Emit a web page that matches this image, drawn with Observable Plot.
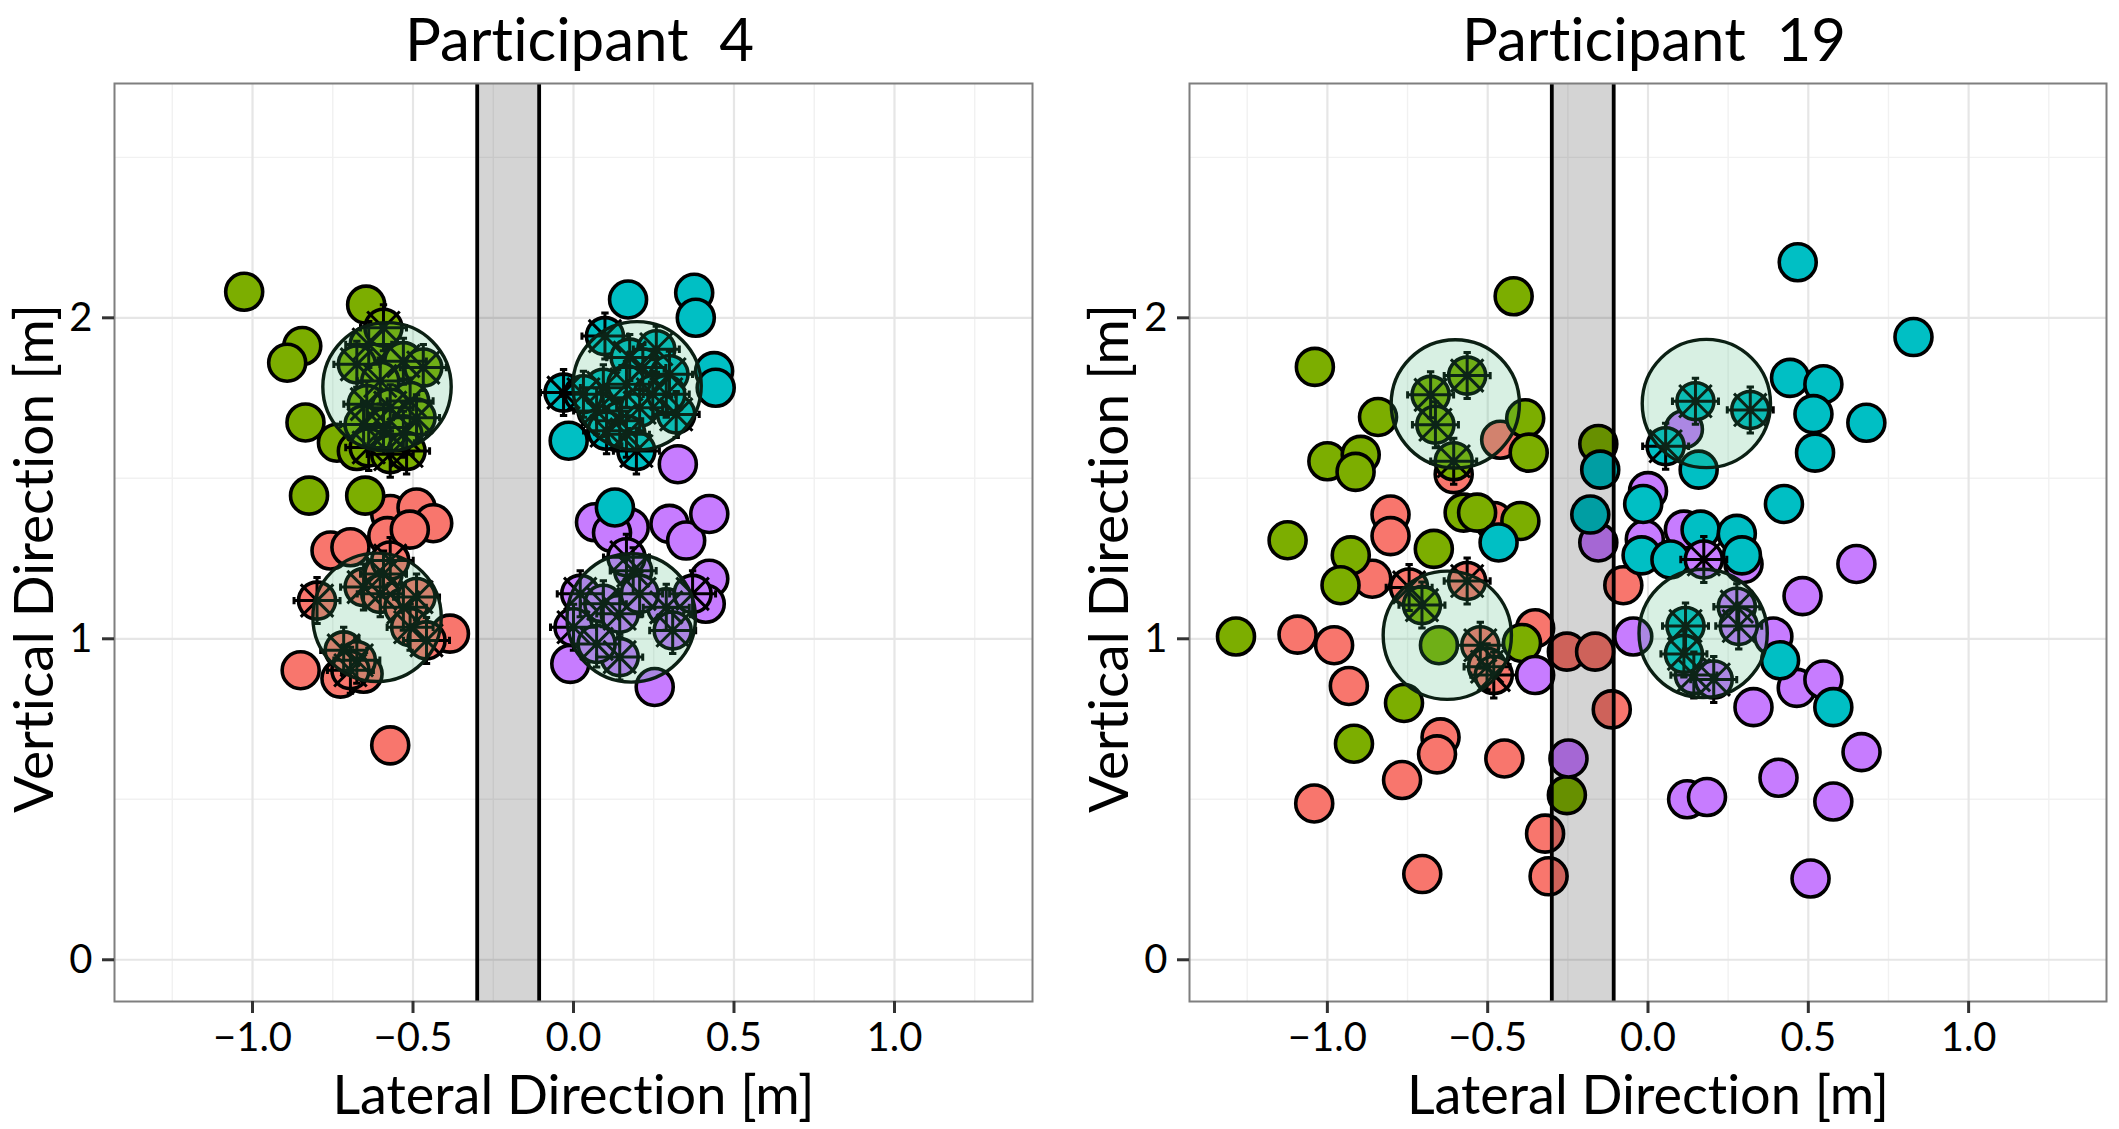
<!DOCTYPE html>
<html>
<head>
<meta charset="utf-8">
<script src="https://cdn.jsdelivr.net/npm/d3@7"></script>
<script src="https://cdn.jsdelivr.net/npm/@observablehq/plot@0.6"></script>
<style>
  html, body { margin: 0; padding: 0; background: #fff; }
  #wrap { display: flex; width: 2119px; height: 1129px; overflow: hidden; }
  #wrap svg { display: block; }
  #wrap svg text { font-variant-ligatures: none; font-feature-settings: "liga" 0; }
</style>
</head>
<body>
<div id="wrap"></div>
<script>
// ---------- axes / reference values ----------
const xDomain = [-1.43, 1.43];
const yDomain = [-0.13, 2.73];
const xMajor = [-1, -0.5, 0, 0.5, 1];
const xMinor = [-1.25, -0.75, -0.25, 0.25, 0.75, 1.25];
const yMajor = [0, 1, 2];
const yMinor = [0.5, 1.5, 2.5];
const band = [-0.3, -0.107];
const circleRadius = 0.2;
const xLabel = "Lateral Direction [m]";
const yLabel = "Vertical Direction [m]";

const colorRed = "#F8766D", colorGreen = "#7CAE00", colorTeal = "#00BFC4", colorPurple = "#C77CFF";

// ---------- Participant 4 ----------
const p4RedPlain = [[-0.571,0.668],[-0.850,0.902],[-0.726,0.876],[-0.654,0.891],[-0.757,1.275],[-0.695,1.285],
  [-0.571,1.389],[-0.489,1.409],[-0.437,1.360],[-0.580,1.320],[-0.510,1.340],[-0.385,1.016]];
const p4RedHigh = [[-0.799,1.119],[-0.654,1.161],[-0.592,1.202],[-0.571,1.244],[-0.602,1.140],[-0.530,1.098],
  [-0.489,1.130],[-0.509,1.036],[-0.458,0.995],[-0.716,0.964],[-0.675,0.933],[-0.695,0.902]];
const p4GreenPlain = [[-1.026,2.081],[-0.845,1.912],[-0.892,1.860],[-0.835,1.674],[-0.737,1.611],[-0.675,1.585],
  [-0.824,1.446],[-0.649,1.446],[-0.646,2.041]];
const p4GreenHigh = [[-0.638,1.917],[-0.592,1.969],[-0.530,1.865],[-0.468,1.845],[-0.675,1.855],[-0.602,1.803],
  [-0.509,1.741],[-0.644,1.731],[-0.571,1.720],[-0.489,1.689],[-0.654,1.668],[-0.592,1.658],[-0.530,1.637],
  [-0.638,1.596],[-0.571,1.575],[-0.520,1.585]];
const p4TealPlain = [[0.170,2.057],[0.376,2.078],[0.381,2.000],[0.438,1.834],[0.443,1.782],[-0.015,1.617],[0.129,1.409]];
const p4TealHigh = [[-0.031,1.767],[0.098,1.943],[0.175,1.876],[0.258,1.902],[0.216,1.845],[0.299,1.824],[0.093,1.782],
  [0.165,1.793],[0.247,1.762],[0.320,1.699],[0.072,1.710],[0.144,1.679],[0.206,1.720],[0.103,1.648],[0.165,1.637],
  [0.196,1.585],[0.289,1.762],[0.031,1.762]];
const p4PurplePlain = [[0.325,1.544],[0.067,1.363],[0.175,1.347],[0.299,1.358],[0.351,1.306],[0.423,1.389],
  [0.423,1.187],[0.412,1.109],[-0.010,0.922],[0.253,0.850],[0.120,1.330]];
const p4PurpleHigh = [[0.186,1.212],[0.165,1.254],[0.021,1.140],[0.093,1.109],[0.000,1.036],[0.144,1.078],
  [0.144,0.943],[0.289,1.098],[0.309,1.026],[0.371,1.140],[0.072,0.984],[0.206,1.140]];
const p4Circles = [[-0.581,1.785],[-0.612,1.067],[0.198,1.788],[0.180,1.065]];

// ---------- Participant 19 ----------
const p19RedPlain = [[-0.803,1.387],[-0.803,1.320],[-0.860,1.187],[-1.093,1.013],[-0.979,0.980],[-0.933,0.853],
  [-0.647,0.693],[-0.658,0.640],[-0.767,0.560],[-0.448,0.627],[-1.041,0.487],[-0.704,0.267],[-0.321,0.393],
  [-0.310,0.260],[-0.352,1.033],[-0.253,0.960],[-0.165,0.960],[-0.113,0.780],[-0.077,1.167],[-0.461,1.620],
  [-0.606,1.513],[-0.481,1.367]];
const p19RedHigh = [[-0.564,1.180],[-0.745,1.160],[-0.523,0.980],[-0.502,0.913],[-0.481,0.887]];
const p19GreenPlain = [[-0.419,2.067],[-1.039,1.847],[-0.842,1.691],[-1.000,1.553],[-0.896,1.573],[-0.912,1.520],
  [-0.383,1.687],[-0.372,1.580],[-1.124,1.307],[-0.927,1.260],[-0.959,1.167],[-0.668,1.280],[-0.575,1.393],
  [-0.533,1.393],[-0.398,1.367],[-1.285,1.007],[-0.652,0.980],[-0.393,0.987],[-0.761,0.800],[-0.917,0.673],
  [-0.155,1.607],[-0.253,0.513]];
const p19GreenHigh = [[-0.678,1.760],[-0.564,1.820],[-0.663,1.667],[-0.606,1.553],[-0.705,1.105]];
const p19TealPlain = [[-0.149,1.527],[-0.180,1.387],[-0.466,1.300],[-0.015,1.420],[-0.020,1.260],[0.467,2.173],
  [0.828,1.940],[0.443,1.813],[0.547,1.793],[0.516,1.700],[0.521,1.580],[0.681,1.673],[0.424,1.420],[0.158,1.527],
  [0.164,1.340],[0.277,1.327],[0.293,1.260],[0.070,1.247],[0.412,0.933],[0.578,0.787]];
const p19TealHigh = [[0.148,1.740],[0.319,1.713],[0.055,1.600],[0.117,1.040],[0.112,0.953]];
const p19PurplePlain = [[-0.352,0.887],[-0.046,1.007],[-0.248,0.627],[-0.155,1.300],[0.000,1.460],[-0.010,1.310],
  [0.112,1.653],[0.112,1.340],[0.650,1.233],[0.482,1.133],[0.391,1.007],[0.464,0.847],[0.547,0.873],[0.329,0.787],
  [0.666,0.647],[0.407,0.567],[0.122,0.500],[0.184,0.507],[0.578,0.493],[0.507,0.253],[0.298,1.233]];
const p19PurpleHigh = [[0.174,1.247],[0.277,1.100],[0.283,1.040],[0.143,0.887],[0.205,0.873]];
const p19Circles = [[-0.601,1.732],[-0.626,1.011],[0.182,1.733],[0.172,1.017]];

// ---------- drawing ----------
const spokes = {
  draw(ctx, size) {
    const r = Math.sqrt(size / Math.PI);
    const t = r * 0.16;
    for (let k = 0; k < 8; k++) {
      const a = k * Math.PI / 4, c = Math.cos(a), s = Math.sin(a);
      ctx.moveTo(0, 0); ctx.lineTo(r * c, r * s);
      if (k % 2 === 0) { ctx.moveTo(r * c - t * s, r * s + t * c); ctx.lineTo(r * c + t * s, r * s - t * c); }
    }
  }
};

function panel({title, plain, high, circles, width, ml, mr}) {
  const height = 1129, mt = 83, mb = 128;
  const pxPerM = (width - ml - mr) / (xDomain[1] - xDomain[0]);
  const dotOpts = (fill) => ({x: d => d[0], y: d => d[1], r: 18.5, fill, stroke: "#000", strokeWidth: 3.6});
  const allHigh = high.flatMap(h => h.data);
  return Plot.plot({
    width, height, marginLeft: ml, marginRight: mr, marginTop: mt, marginBottom: mb,
    style: {fontFamily: "Lato, 'Open Sans', sans-serif", background: "#fff", color: "#000"},
    x: {domain: xDomain, label: null},
    y: {domain: yDomain, label: null},
    marks: [
      Plot.ruleX(xMinor, {stroke: "#f1f1f1", strokeWidth: 1.4}),
      Plot.ruleY(yMinor, {stroke: "#f1f1f1", strokeWidth: 1.4}),
      Plot.ruleX(xMajor, {stroke: "#e6e6e6", strokeWidth: 2.2}),
      Plot.ruleY(yMajor, {stroke: "#e6e6e6", strokeWidth: 2.2}),
      ...plain.map(p => Plot.dot(p.data, dotOpts(p.color))),
      ...high.map(p => Plot.dot(p.data, dotOpts(p.color))),
      Plot.dot(allHigh, {x: d => d[0], y: d => d[1], r: 23, symbol: spokes, fill: "none", stroke: "#000", strokeWidth: 3}),
      Plot.dot(circles, {x: d => d[0], y: d => d[1], r: circleRadius * pxPerM, fill: "#3cb371", fillOpacity: 0.2,
        stroke: "#0b1f13", strokeWidth: 3.4}),
      Plot.rect([band], {x1: d => d[0], x2: d => d[1], y1: () => yDomain[0], y2: () => yDomain[1], fill: "#000", fillOpacity: 0.17}),
      Plot.ruleX(band, {stroke: "#000", strokeWidth: 3.8}),
      Plot.frame({stroke: "#7f7f7f", strokeWidth: 2}),
      Plot.axisX({ticks: xMajor, tickFormat: d3.format(".1f"), tickSize: 12, tickPadding: 9, stroke: "#333",
        strokeWidth: 3, fontSize: 40, fill: "#000", label: null}),
      Plot.axisY({ticks: yMajor, tickFormat: d3.format("d"), tickSize: 12, tickPadding: 10, stroke: "#333",
        strokeWidth: 3, fontSize: 40, fill: "#000", label: null}),
      Plot.text([title], {text: d => d, frameAnchor: "top", textAnchor: "middle", lineAnchor: "bottom", dy: -23, dx: 6, fontSize: 60, fill: "#000"}),
      Plot.text([xLabel], {text: d => d, frameAnchor: "bottom", textAnchor: "middle", lineAnchor: "bottom", dy: 112, fontSize: 54, fill: "#000"}),
      Plot.text([yLabel], {text: d => d, frameAnchor: "left", textAnchor: "middle", lineAnchor: "bottom", rotate: -90, dx: -62, dy: 16, fontSize: 55, fill: "#000"})
    ]
  });
}

const wrap = document.getElementById("wrap");
wrap.appendChild(panel({
  title: "Participant\u00a0\u00a04",
  plain: [{data: p4RedPlain, color: colorRed}, {data: p4GreenPlain, color: colorGreen},
          {data: p4PurplePlain, color: colorPurple}, {data: p4TealPlain, color: colorTeal}],
  high: [{data: p4RedHigh, color: colorRed}, {data: p4GreenHigh, color: colorGreen},
         {data: p4PurpleHigh, color: colorPurple}, {data: p4TealHigh, color: colorTeal}],
  circles: p4Circles, width: 1060, ml: 114, mr: 28
}));
wrap.appendChild(panel({
  title: "Participant\u00a0\u00a019",
  plain: [{data: p19RedPlain, color: colorRed}, {data: p19GreenPlain, color: colorGreen},
          {data: p19PurplePlain, color: colorPurple}, {data: p19TealPlain, color: colorTeal}],
  high: [{data: p19RedHigh, color: colorRed}, {data: p19GreenHigh, color: colorGreen},
         {data: p19PurpleHigh, color: colorPurple}, {data: p19TealHigh, color: colorTeal}],
  circles: p19Circles, width: 1059, ml: 129, mr: 13
}));
</script>
</body>
</html>
